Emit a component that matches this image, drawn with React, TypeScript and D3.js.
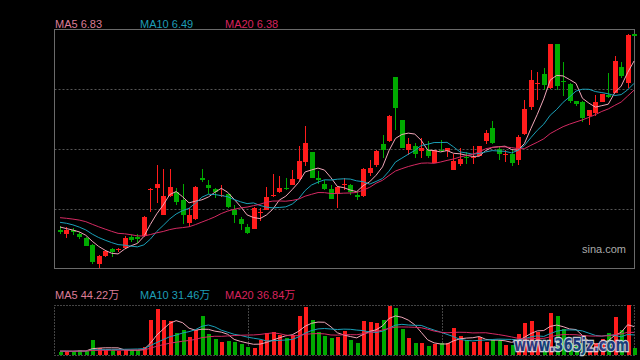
import { useEffect, useRef } from "react";
import * as d3 from "d3";

// 日K线数据 (价格, 元)
const opens = [4.27, 4.21, 4.26, 4.21, 4.14, 4.04, 3.76, 3.87, 3.98, 3.96, 3.99, 4.16, 4.16, 4.17, 4.87, 4.9, 4.49, 4.77, 4.83, 4.72, 4.37, 4.43, 5.05, 4.94, 4.88, 4.77, 4.8, 4.57, 4.43, 4.31, 4.28, 4.52, 4.56, 4.77, 4.84, 4.9, 4.94, 5.03, 5.29, 5.43, 5.05, 4.95, 4.88, 4.81, 4.95, 4.94, 4.79, 4.77, 5.12, 5.24, 5.55, 5.6, 6.56, 5.91, 5.46, 5.52, 5.45, 5.47, 5.27, 5.47, 5.45, 5.16, 5.25, 5.36, 5.35, 5.37, 5.6, 5.79, 5.48, 5.39, 5.4, 5.32, 5.7, 6.11, 6.45, 6.6, 6.4, 7.06, 6.5, 6.45, 6.2, 6.19, 5.98, 6.02, 6.18, 6.29, 6.32, 6.71, 6.47, 7.2];
const highs = [4.32, 4.31, 4.29, 4.24, 4.16, 4.05, 3.89, 3.96, 4.0, 4.0, 4.17, 4.19, 4.2, 4.47, 4.89, 5.24, 5.18, 5.18, 4.89, 4.95, 4.59, 4.92, 5.18, 5.02, 4.89, 4.94, 4.81, 4.64, 4.46, 4.35, 4.61, 4.6, 4.91, 5.1, 5.07, 5.04, 5.16, 5.52, 5.82, 5.44, 5.15, 5.01, 4.94, 4.92, 5.05, 4.96, 4.85, 5.2, 5.32, 5.47, 5.69, 5.99, 6.56, 5.92, 5.65, 5.57, 5.65, 5.6, 5.47, 5.61, 5.5, 5.4, 5.5, 5.43, 5.53, 5.53, 5.76, 5.9, 5.52, 5.47, 5.47, 5.69, 6.22, 6.66, 6.63, 6.69, 7.06, 7.06, 6.78, 6.47, 6.2, 6.2, 6.07, 6.29, 6.31, 6.62, 6.87, 6.79, 7.2, 7.21];
const lows = [4.21, 4.14, 4.19, 4.13, 4.02, 3.76, 3.7, 3.86, 3.86, 3.94, 3.98, 4.09, 4.07, 4.16, 4.53, 4.67, 4.49, 4.76, 4.64, 4.36, 4.31, 4.41, 4.99, 4.81, 4.74, 4.76, 4.59, 4.37, 4.26, 4.21, 4.28, 4.4, 4.56, 4.76, 4.82, 4.86, 4.94, 5.01, 5.22, 5.04, 4.96, 4.86, 4.73, 4.6, 4.87, 4.79, 4.72, 4.76, 5.07, 5.21, 5.34, 5.59, 5.76, 5.5, 5.39, 5.34, 5.35, 5.35, 5.27, 5.44, 5.36, 5.16, 5.22, 5.25, 5.26, 5.37, 5.56, 5.55, 5.32, 5.29, 5.22, 5.24, 5.69, 6.07, 6.22, 6.37, 6.38, 6.37, 6.27, 6.17, 6.13, 5.88, 5.84, 5.98, 6.18, 6.24, 6.32, 6.54, 6.39, 7.17];
const closes = [4.24, 4.26, 4.24, 4.16, 4.03, 3.79, 3.87, 3.95, 3.94, 3.98, 4.15, 4.12, 4.13, 4.46, 4.88, 4.95, 4.78, 4.91, 4.69, 4.49, 4.49, 4.91, 5.01, 4.9, 4.84, 4.79, 4.61, 4.49, 4.35, 4.22, 4.59, 4.53, 4.76, 4.79, 4.9, 4.88, 5.03, 5.3, 5.57, 5.05, 5.02, 4.88, 4.73, 4.91, 4.96, 4.84, 4.76, 5.18, 5.2, 5.45, 5.47, 5.97, 6.1, 5.5, 5.55, 5.4, 5.5, 5.37, 5.46, 5.45, 5.5, 5.3, 5.33, 5.35, 5.36, 5.52, 5.72, 5.57, 5.4, 5.4, 5.27, 5.66, 6.08, 6.52, 6.47, 6.44, 7.06, 6.43, 6.48, 6.2, 6.15, 5.94, 6.07, 6.18, 6.31, 6.26, 6.8, 6.57, 7.19, 7.18];
// 成交量 (万手)
const volumes = [5.3, 6.4, 5.3, 8, 6.9, 24, 10.7, 8, 8, 6.4, 8, 8, 8, 13.3, 56, 73.6, 56, 54.4, 34.7, 40, 29.3, 40, 62.4, 33.6, 25.6, 21.3, 22.9, 21.3, 17.6, 13.3, 10.7, 24, 34.7, 36.3, 32, 26.7, 32, 62.9, 76.3, 56, 36.3, 30.4, 26.7, 28.3, 38.4, 24, 19.7, 54.4, 52.3, 50.7, 56, 78.9, 74.7, 41.6, 27.7, 18.7, 18.7, 14.4, 17.6, 18.7, 18.7, 43.7, 30.4, 24, 21.3, 28.3, 21.3, 24, 24, 16, 16, 33.6, 51.7, 54.4, 37.3, 18.7, 66.7, 62.4, 41.6, 19, 14, 19, 16, 19, 25, 35.7, 61.3, 40, 80, 10.7];

// 图表左侧之前的交易日, 只用于均线
const earlierCloses = [4.45, 4.48, 4.46, 4.5, 4.58, 4.62, 4.65, 4.6, 4.58, 4.28, 4.4, 4.48, 4.5, 4.45, 4.42, 4.38, 4.35, 4.3, 4.28];
const earlierVolumes = [6, 7, 6, 5, 7, 6, 8, 6, 7, 6, 5, 7, 6, 7, 6, 7, 6, 5, 7];

const maPeriods = [5, 10, 20];
const priceMaLabels = ["6.83", "6.49", "6.38"];
const volumeMaLabels = ["44.22万", "31.46万", "36.84万"];
const monthStarts = [29, 59];

const maTextColors = ["#dc7d96", "#1e9db6", "#d8235d"];
const maLineColors = ["#f0a6b8", "#1aa0b8", "#d42a62"];
const RED = "#ff1c1c";
const GREEN = "#00aa00";

const movingAvg = (earlier, values, period) => {
  const all = earlier.concat(values);
  const off = earlier.length;
  return values.map((_, i) => d3.mean(all.slice(off + i - period + 1, off + i + 1)));
};

const App = () => {
  const chartRef = useRef(null);

  useEffect(() => {
    document.body.style.margin = "0";
    document.body.style.background = "#000";

    const width = 640;
    const height = 360;
    const main = { left: 54.5, right: 634.5, top: 29.5, bottom: 268.5 };
    const vol = { top: 305.5, bottom: 355.5 };
    const n = closes.length;

    d3.select(chartRef.current).selectAll("*").remove();

    const svg = d3.select(chartRef.current)
      .append("svg")
      .attr("width", width)
      .attr("height", height)
      .style("display", "block")
      .style("background", "#000")
      .style("font-family", "'Liberation Sans', Arial, 'Noto Sans CJK SC', sans-serif");

    const x = d3.scaleBand()
      .domain(d3.range(n))
      .range([56.8, 637.3])
      .paddingInner(0);
    const cx = (i) => x(i) + x.bandwidth() / 2;

    const y = d3.scaleLinear().domain([3.6875, 7.2725]).range([main.bottom, main.top]);
    const yVol = d3.scaleLinear().domain([0, 80]).range([355, 305]);

    // 主图网格
    const h = main.bottom - main.top;
    svg.selectAll(".grid")
      .data([1, 2, 3])
      .enter()
      .append("line")
      .attr("x1", main.left)
      .attr("x2", main.right)
      .attr("y1", (d) => Math.round(main.top + (h * d) / 4) + 0.5)
      .attr("y2", (d) => Math.round(main.top + (h * d) / 4) + 0.5)
      .attr("stroke", "#555")
      .attr("stroke-dasharray", "2,2");

    svg.append("rect")
      .attr("x", main.left)
      .attr("y", main.top)
      .attr("width", main.right - main.left)
      .attr("height", main.bottom - main.top)
      .attr("fill", "none")
      .attr("stroke", "#6a6a6a");

    // 成交量框
    svg.append("rect")
      .attr("x", main.left)
      .attr("y", vol.top)
      .attr("width", main.right - main.left)
      .attr("height", vol.bottom - vol.top)
      .attr("fill", "none")
      .attr("stroke", "#888")
      .attr("stroke-dasharray", "1,2");

    svg.selectAll(".month")
      .data(monthStarts)
      .enter()
      .append("line")
      .attr("x1", (d) => Math.round(cx(d)) + 1.5)
      .attr("x2", (d) => Math.round(cx(d)) + 1.5)
      .attr("y1", vol.top)
      .attr("y2", vol.bottom)
      .attr("stroke", "#888")
      .attr("stroke-dasharray", "1,2");

    const data = closes.map((c, i) => ({ i, o: opens[i], h: highs[i], l: lows[i], c, v: volumes[i] }));
    const colorOf = (d) => (d.c >= d.o ? RED : GREEN);

    // K线
    const candles = svg.append("g").attr("shape-rendering", "crispEdges");
    candles.selectAll(".wick")
      .data(data)
      .enter()
      .append("line")
      .attr("x1", (d) => Math.round(cx(d.i)) + 0.5)
      .attr("x2", (d) => Math.round(cx(d.i)) + 0.5)
      .attr("y1", (d) => y(d.h))
      .attr("y2", (d) => y(d.l))
      .attr("stroke", colorOf);

    candles.selectAll(".body")
      .data(data)
      .enter()
      .append("rect")
      .attr("x", (d) => Math.round(cx(d.i)) - 2)
      .attr("width", 5)
      .attr("y", (d) => y(Math.max(d.o, d.c)))
      .attr("height", (d) => Math.max(1, Math.abs(y(d.o) - y(d.c))))
      .attr("fill", colorOf);

    // 成交量柱
    candles.selectAll(".vbar")
      .data(data)
      .enter()
      .append("rect")
      .attr("x", (d) => Math.round(cx(d.i)) - 1.5)
      .attr("width", 4)
      .attr("y", (d) => yVol(d.v))
      .attr("height", (d) => yVol(0) - yVol(d.v))
      .attr("fill", colorOf);

    // 均线
    maPeriods.forEach((p, k) => {
      const ma = movingAvg(earlierCloses, closes, p);
      svg.append("path")
        .attr("d", d3.line().x((_, i) => cx(i)).y((d) => y(d))(ma))
        .attr("fill", "none")
        .attr("stroke", maLineColors[k])
        .attr("stroke-width", 1);

      const vma = movingAvg(earlierVolumes, volumes, p);
      svg.append("path")
        .attr("d", d3.line().x((_, i) => cx(i)).y((d) => yVol(d))(vma))
        .attr("fill", "none")
        .attr("stroke", maLineColors[k])
        .attr("stroke-width", 1);
    });

    // 图例
    const legendX = [55, 140, 225];
    maPeriods.forEach((p, k) => {
      svg.append("text")
        .attr("x", legendX[k])
        .attr("y", 27.5)
        .attr("font-size", 11)
        .attr("fill", maTextColors[k])
        .text(`MA${p} ${priceMaLabels[k]}`);
      svg.append("text")
        .attr("x", legendX[k])
        .attr("y", 299)
        .attr("font-size", 11)
        .attr("fill", maTextColors[k])
        .text(`MA${p} ${volumeMaLabels[k]}`);
    });

    svg.append("text")
      .attr("x", 582)
      .attr("y", 253)
      .attr("font-size", 11)
      .attr("fill", "#aaa")
      .text("sina.com");

    svg.append("text")
      .attr("x", 514)
      .attr("y", 351)
      .attr("font-size", 17)
      .attr("font-weight", "bold")
      .attr("font-family", "'DejaVu Sans', sans-serif")
      .attr("textLength", 115)
      .attr("lengthAdjust", "spacingAndGlyphs")
      .attr("fill", "#1b3d8a")
      .attr("stroke", "#dbe3ef")
      .attr("stroke-width", 2.5)
      .attr("paint-order", "stroke")
      .attr("opacity", 0.88)
      .text("www.365jz.com");
  }, []);

  return <div ref={chartRef}></div>;
};

export default App;
